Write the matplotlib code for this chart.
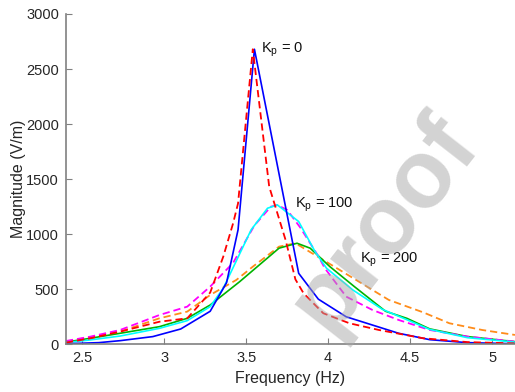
import matplotlib
matplotlib.use("Agg")
from matplotlib import pyplot as plt
from matplotlib.ticker import FormatStrFormatter

plt.rcParams['font.family'] = ['Liberation Sans', 'DejaVu Sans']
plt.rcParams['mathtext.default'] = 'regular'

# Kp = 0 : simulated (solid blue) and analytic (dashed red)
f_blue = [2.4, 2.6, 2.73, 2.93, 3.1, 3.28, 3.38, 3.45, 3.55, 3.82, 3.94, 4.11, 4.43, 4.62, 4.85, 5.14]
m_blue = [5, 15, 33, 70, 139, 300, 560, 1040, 2680, 645, 410, 250, 100, 42, 15, 5]

f_red = [2.4, 2.55, 2.73, 2.97, 3.14, 3.28, 3.36, 3.42, 3.45, 3.54, 3.64, 3.74, 3.8, 3.85, 3.97, 4.13, 4.31, 4.58, 4.85, 5.14]
m_red = [15, 55, 115, 205, 236, 470, 797, 1100, 1280, 2680, 1433, 948, 590, 463, 282, 191, 130, 55, 20, 8]

# Kp = 100 : simulated (solid cyan) and analytic (dashed magenta)
f_cyan = [2.4, 2.55, 2.73, 2.97, 3.14, 3.28, 3.36, 3.53, 3.63, 3.69, 3.82, 3.92, 3.99, 4.15, 4.33, 4.62, 4.85, 5.14]
m_cyan = [15, 40, 75, 145, 215, 342, 510, 1040, 1236, 1266, 1115, 842, 691, 494, 318, 135, 60, 20]

f_mag = [2.4, 2.55, 2.73, 2.97, 3.14, 3.28, 3.42, 3.55, 3.65, 3.69, 3.75, 3.83, 3.94, 3.98, 4.11, 4.27, 4.43, 4.62, 4.85, 5.14]
m_mag = [30, 70, 130, 266, 342, 524, 740, 1080, 1250, 1265, 1220, 1060, 800, 690, 433, 312, 221, 130, 70, 25]

# Kp = 200 : simulated (solid green) and analytic (dashed orange)
f_green = [2.4, 2.55, 2.73, 2.97, 3.14, 3.28, 3.46, 3.7, 3.81, 3.89, 4.01, 4.16, 4.35, 4.48, 4.62, 4.85, 5.14]
m_green = [20, 55, 100, 160, 236, 357, 569, 873, 918, 873, 706, 524, 300, 236, 140, 70, 24]

f_orange = [2.4, 2.55, 2.73, 2.97, 3.14, 3.28, 3.44, 3.54, 3.7, 3.8, 3.97, 4.17, 4.37, 4.58, 4.74, 4.94, 5.14]
m_orange = [25, 65, 115, 236, 297, 448, 585, 705, 887, 918, 766, 585, 403, 290, 191, 130, 85]

labels = ['$K_p$ = 0', '$K_p$ = 100', '$K_p$ = 200']
label_pos = [(3.59, 2675), (3.795, 1266), (4.196, 766)]

W, H = 515, 392
fig = plt.figure(figsize=(W / 100, H / 100), dpi=100)
ax = fig.add_axes([66 / W, 47.7 / H, (W - 66) / W, (344.3 - 14) / H])

dash = (0, (4, 2.2))
ax.plot(f_orange, m_orange, color='#ff8c1a', ls=dash, lw=1.3)
ax.plot(f_green, m_green, color='#00b400', lw=1.2)
ax.plot(f_mag, m_mag, color='#ff00ff', ls=dash, lw=1.3)
ax.plot(f_cyan, m_cyan, color='#00ffff', lw=1.2)
ax.plot(f_blue, m_blue, color='#0000ff', lw=1.2)
ax.plot(f_red, m_red, color='#ff0000', ls=dash, lw=1.3)

for txt, (x, y) in zip(labels, label_pos):
    ax.text(x, y, txt, fontsize=10.5, color='#111111', ha='left', va='center')

ax.set_xlim(2.4, 2.4 + (W - 65.6) / 164)
ax.set_ylim(0, 3000)
ax.set_xticks([2.5, 3, 3.5, 4, 4.5, 5])
ax.set_yticks([0, 500, 1000, 1500, 2000, 2500, 3000])
ax.xaxis.set_major_formatter(FormatStrFormatter('%g'))

for s in ['top', 'right']:
    ax.spines[s].set_visible(False)
for s in ['left', 'bottom']:
    ax.spines[s].set_color('#808080')
    ax.spines[s].set_linewidth(1.2)
ax.tick_params(direction='in', length=4, width=0.8, color='#808080',
               labelsize=10.5, labelcolor='#262626', pad=5)

ax.set_xlabel('Frequency (Hz)', fontsize=11.5, color='#262626', labelpad=4)
ax.set_ylabel('Magnitude (V/m)', fontsize=11.5, color='#262626', labelpad=0)

# watermark on top of the plot, kept inside the figure
fig.text(385 / W, 1 - 224 / H, 'proof', fontsize=69, fontweight='bold',
         color='#a8a8a8', alpha=0.5, rotation=52,
         ha='center', va='center', rotation_mode='anchor', zorder=10)

fig.savefig('out.png', dpi=100)
